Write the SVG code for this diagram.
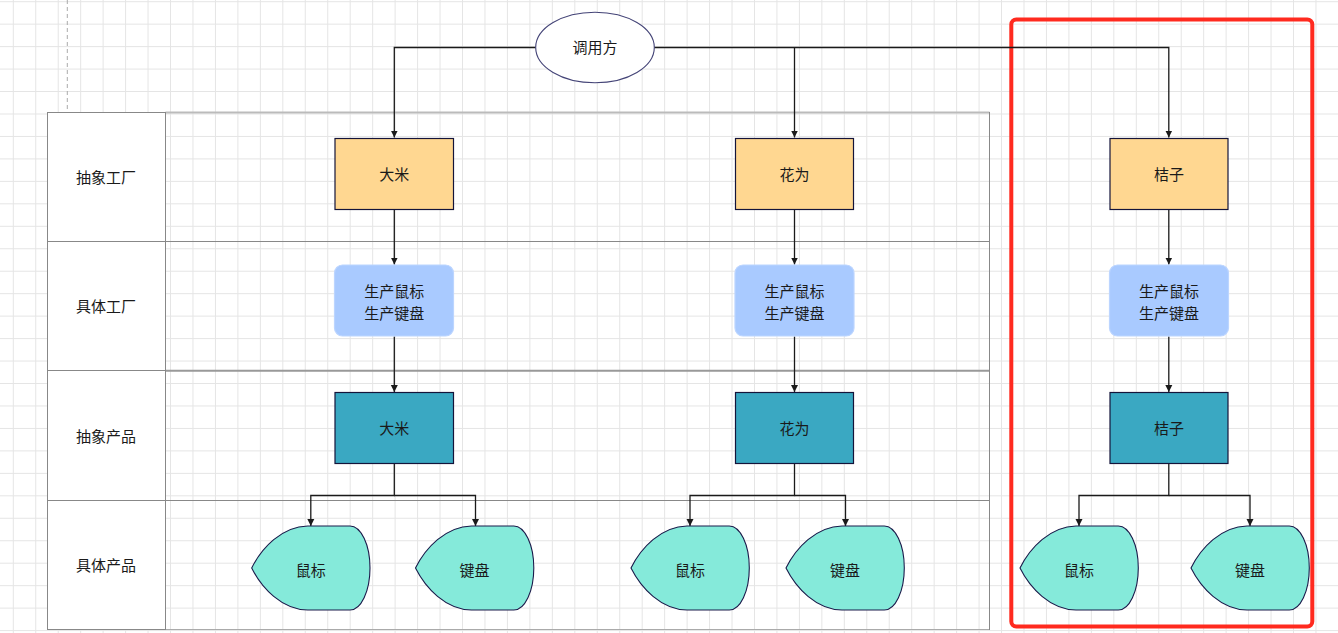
<svg xmlns="http://www.w3.org/2000/svg" width="1338" height="633" viewBox="0 0 1338 633">
<defs>
<style>
.grid{stroke:#e5e5e5;stroke-width:1;fill:none}
.lbl{fill:#ffffff;stroke:#888888;stroke-width:1}
.ln{stroke:#888888;stroke-width:1;fill:none}
.t{font-family:"Noto Sans CJK SC","Noto Sans",sans-serif;font-size:15px;fill:#1a1a1a;text-anchor:middle;dominant-baseline:central}
.fac{fill:#FFD791;stroke:#14143a;stroke-width:1.2}
.con{fill:#A9CAFF;stroke:#bcd5ff;stroke-width:1.2}
.prd{fill:#3AA8C2;stroke:#14143a;stroke-width:1.2}
.item{fill:#85EADA;stroke:#1a1a4a;stroke-width:1.1}
.edge{stroke:#1a1a1a;stroke-width:1.3;fill:none}
</style>
<marker id="arr" markerUnits="userSpaceOnUse" markerWidth="8" markerHeight="8" refX="7" refY="3.5" orient="auto" viewBox="0 0 8 7">
<path d="M0,0 L7,3.5 L0,7 Z" fill="#1a1a1a"/>
</marker>
<path id="disp" d="M0,42 C10,22 30,0.5 56,0 L98.3,0 A20,42 0 0 1 118.3,42 A20,42 0 0 1 98.3,84 L56,84 C30,83.5 10,62 0,42 Z"/>
</defs>
<rect x="0" y="0" width="1338" height="633" fill="#ffffff"/>
<g id="grid" class="grid">
<path d="M13.3 0V633M35.76 0V633M58.22 0V633M80.68 0V633M103.14 0V633M125.6 0V633M148.06 0V633M170.52 0V633M192.98 0V633M215.44 0V633M237.9 0V633M260.36 0V633M282.82 0V633M305.28 0V633M327.74 0V633M350.2 0V633M372.66 0V633M395.12 0V633M417.58 0V633M440.04 0V633M462.5 0V633M484.96 0V633M507.42 0V633M529.88 0V633M552.34 0V633M574.8 0V633M597.26 0V633M619.72 0V633M642.18 0V633M664.64 0V633M687.1 0V633M709.56 0V633M732.02 0V633M754.48 0V633M776.94 0V633M799.4 0V633M821.86 0V633M844.32 0V633M866.78 0V633M889.24 0V633M911.7 0V633M934.16 0V633M956.62 0V633M979.08 0V633M1001.54 0V633M1024 0V633M1046.46 0V633M1068.92 0V633M1091.38 0V633M1113.84 0V633M1136.3 0V633M1158.76 0V633M1181.22 0V633M1203.68 0V633M1226.14 0V633M1248.6 0V633M1271.06 0V633M1293.52 0V633M1315.98 0V633"/>
<path d="M0 1.7H1338M0 24.16H1338M0 46.62H1338M0 69.08H1338M0 91.54H1338M0 114H1338M0 136.46H1338M0 158.92H1338M0 181.38H1338M0 203.84H1338M0 226.3H1338M0 248.76H1338M0 271.22H1338M0 293.68H1338M0 316.14H1338M0 338.6H1338M0 361.06H1338M0 383.52H1338M0 405.98H1338M0 428.44H1338M0 450.9H1338M0 473.36H1338M0 495.82H1338M0 518.28H1338M0 540.74H1338M0 563.2H1338M0 585.66H1338M0 608.12H1338M0 630.58H1338"/>
</g>
<line x1="67.3" y1="0" x2="67.3" y2="112" stroke="#aaaaaa" stroke-width="1" stroke-dasharray="4 3"/>
<g id="lanes">
<line x1="165.5" y1="112.5" x2="989.5" y2="112.5" stroke="#bbbbbb" stroke-width="2"/>
<line class="ln" x1="165.5" y1="241.5" x2="989.5" y2="241.5"/>
<line x1="165.5" y1="370.8" x2="989.5" y2="370.8" stroke="#999999" stroke-width="2"/>
<line class="ln" x1="165.5" y1="500.5" x2="989.5" y2="500.5"/>
<line x1="165.5" y1="629.5" x2="989.5" y2="629.5" stroke="#aaaaaa" stroke-width="1"/>
<line class="ln" x1="989.5" y1="112" x2="989.5" y2="630"/>
<g id="lane1"><rect class="lbl" x="47.5" y="112.5" width="118" height="129"/><text class="t" x="106" y="176">抽象工厂</text></g>
<g id="lane2"><rect class="lbl" x="47.5" y="241.5" width="118" height="129"/><text class="t" x="106" y="305">具体工厂</text></g>
<g id="lane3"><rect class="lbl" x="47.5" y="370.5" width="118" height="130"/><text class="t" x="106" y="435">抽象产品</text></g>
<g id="lane4"><rect class="lbl" x="47.5" y="500.5" width="118" height="129"/><text class="t" x="106" y="564.5">具体产品</text></g>
</g>
<rect id="highlight" x="1011.3" y="19.5" width="301" height="607" rx="5" fill="none" stroke="#ff2a1f" stroke-width="4"/>
<g id="connectors">
<path class="edge" d="M536,47.5 H394.3 V137.5" marker-end="url(#arr)"/>
<path class="edge" d="M654,47.5 H1168.8 V137.5" marker-end="url(#arr)"/>
<path class="edge" d="M794.5,47.5 V137.5" marker-end="url(#arr)"/>
<path class="edge" d="M394.3,209.5 V264.5" marker-end="url(#arr)"/>
<path class="edge" d="M794.5,209.5 V264.5" marker-end="url(#arr)"/>
<path class="edge" d="M1168.8,209.5 V264.5" marker-end="url(#arr)"/>
<path class="edge" d="M394.3,336.5 V392" marker-end="url(#arr)"/>
<path class="edge" d="M794.5,336.5 V392" marker-end="url(#arr)"/>
<path class="edge" d="M1168.8,336.5 V392" marker-end="url(#arr)"/>
<path class="edge" d="M394.3,463.5 V495.5 H310.8 V526" marker-end="url(#arr)"/>
<path class="edge" d="M394.3,495.5 H475.5 V526" marker-end="url(#arr)"/>
<path class="edge" d="M794.5,463.5 V495.5 H690 V526" marker-end="url(#arr)"/>
<path class="edge" d="M794.5,495.5 H845.5 V526" marker-end="url(#arr)"/>
<path class="edge" d="M1168.8,463.5 V495.5 H1079 V526" marker-end="url(#arr)"/>
<path class="edge" d="M1168.8,495.5 H1250 V526" marker-end="url(#arr)"/>
</g>
<g id="caller"><ellipse cx="595" cy="47.5" rx="59.3" ry="35.3" fill="#ffffff" stroke="#444477" stroke-width="1.1"/><text class="t" x="595" y="46.5">调用方</text></g>
<g id="fac1"><rect class="fac" x="335" y="138.5" width="118.5" height="71"/><text class="t" x="394.3" y="173">大米</text></g>
<g id="fac2"><rect class="fac" x="735.5" y="138.5" width="118" height="71"/><text class="t" x="794.5" y="173">花为</text></g>
<g id="fac3"><rect class="fac" x="1110" y="138.5" width="118" height="71"/><text class="t" x="1169" y="173">桔子</text></g>
<g id="con1"><rect class="con" x="334.5" y="265" width="119" height="71" rx="8"/><text class="t" x="394.3" y="290">生产鼠标</text><text class="t" x="394.3" y="312">生产键盘</text></g>
<g id="con2"><rect class="con" x="735" y="265" width="119" height="71" rx="8"/><text class="t" x="794.5" y="290">生产鼠标</text><text class="t" x="794.5" y="312">生产键盘</text></g>
<g id="con3"><rect class="con" x="1109.5" y="265" width="119" height="71" rx="8"/><text class="t" x="1169" y="290">生产鼠标</text><text class="t" x="1169" y="312">生产键盘</text></g>
<g id="prd1"><rect class="prd" x="335" y="392.5" width="118.5" height="71"/><text class="t" x="394.3" y="427">大米</text></g>
<g id="prd2"><rect class="prd" x="735.5" y="392.5" width="118" height="71"/><text class="t" x="794.5" y="427">花为</text></g>
<g id="prd3"><rect class="prd" x="1110" y="392.5" width="118" height="71"/><text class="t" x="1169" y="427">桔子</text></g>
<g id="item1"><use href="#disp" class="item" x="251.7" y="526"/><text class="t" x="310.8" y="569.5">鼠标</text></g>
<g id="item2"><use href="#disp" class="item" x="415.5" y="526"/><text class="t" x="474.6" y="569.5">键盘</text></g>
<g id="item3"><use href="#disp" class="item" x="631" y="526"/><text class="t" x="690" y="569.5">鼠标</text></g>
<g id="item4"><use href="#disp" class="item" x="786" y="526"/><text class="t" x="845" y="569.5">键盘</text></g>
<g id="item5"><use href="#disp" class="item" x="1020" y="526"/><text class="t" x="1079" y="569.5">鼠标</text></g>
<g id="item6"><use href="#disp" class="item" x="1191" y="526"/><text class="t" x="1250" y="569.5">键盘</text></g>
</svg>
